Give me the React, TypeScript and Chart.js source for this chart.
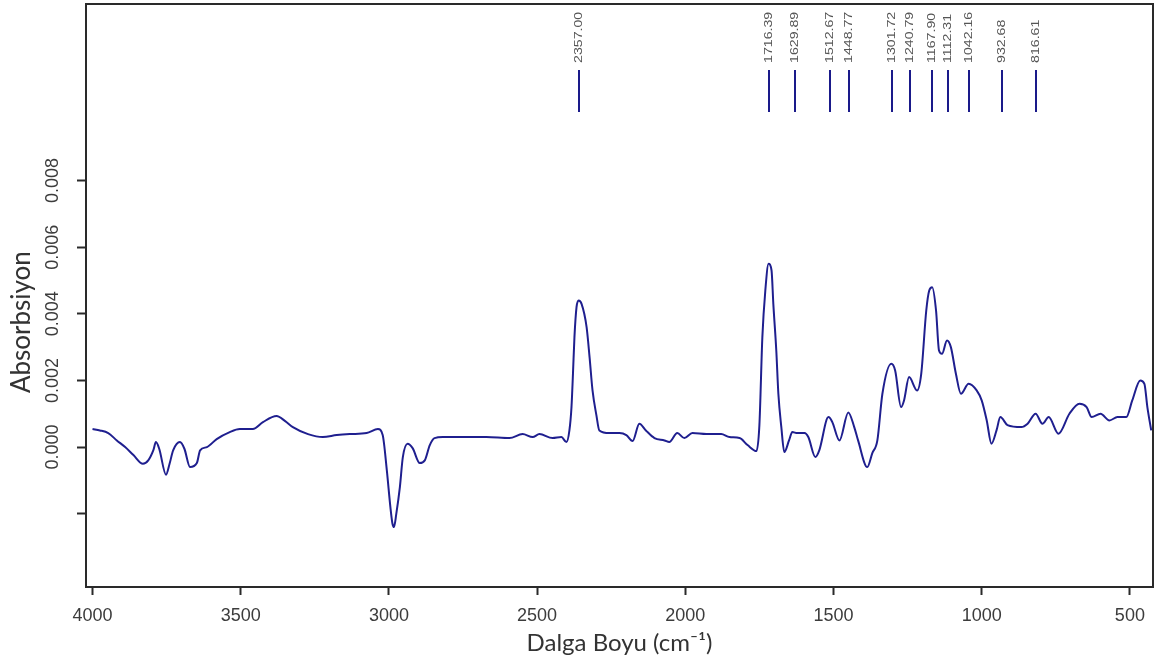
import React, { useEffect, useRef } from "react";
import { Chart, registerables } from "chart.js";

Chart.register(...registerables);

// Wavenumbers (cm-1), descending
const wavenumbers: number[] = [
  4000, 3975, 3947, 3918, 3890, 3862, 3830, 3812, 3795, 3786, 3775, 3752, 3740, 3728, 3705, 3690, 3671, 3648,
  3637, 3614, 3581, 3537, 3503, 3459, 3425, 3379, 3350, 3324, 3273, 3223, 3176, 3132, 3075, 3037, 3021, 3007,
  2995, 2988, 2983, 2975, 2963, 2953, 2937, 2920, 2896, 2879, 2862, 2846, 2818, 2761, 2671, 2593, 2549, 2515,
  2492, 2448, 2418, 2401, 2391, 2384, 2379, 2374, 2367, 2360, 2350, 2333, 2323, 2313, 2300, 2290, 2256, 2222,
  2199, 2178, 2155, 2133, 2104, 2070, 2054, 2027, 2003, 1976, 1929, 1879, 1851, 1817, 1790, 1760, 1750, 1740,
  1730, 1719, 1709, 1703, 1693, 1686, 1676, 1666, 1650, 1639, 1622, 1598, 1585, 1561, 1548, 1517, 1504, 1480,
  1450, 1430, 1417, 1386, 1369, 1352, 1335, 1305, 1292, 1272, 1262, 1245, 1218, 1204, 1187, 1177, 1167, 1154,
  1144, 1134, 1117, 1104, 1087, 1070, 1044, 1017, 1000, 983, 967, 950, 937, 913, 866, 845, 818, 795, 774, 741,
  704, 670, 646, 629, 599, 569, 542, 512, 492, 465, 451, 441, 428,
];

// Absorbance values matching wavenumbers
const absorbance: number[] = [
  0.00054, 0.0005, 0.00042, 0.0002, 0.0, -0.00024, -0.0005, -0.0004, -0.0001, 0.00015, -0.00005, -0.00083, -0.0005,
  -0.0001, 0.00015, -0.00005, -0.0006, -0.00048, -0.0001, 0.0, 0.00024, 0.00045, 0.00054, 0.00054, 0.00075, 0.00093,
  0.00078, 0.0006, 0.00039, 0.0003, 0.00036, 0.00039, 0.00042, 0.00054, 0.00036, -0.0007, -0.0018, -0.0023, -0.0024,
  -0.002, -0.0012, -0.0003, 0.0001, -0.00003, -0.00048, -0.0004, 0.00006, 0.00027, 0.0003, 0.0003, 0.0003, 0.00027,
  0.00039, 0.0003, 0.00039, 0.00027, 0.0003, 0.00015, 0.0005, 0.0012, 0.0022, 0.0033, 0.0042, 0.0044, 0.0043, 0.0036,
  0.0027, 0.0017, 0.00096, 0.0005, 0.00042, 0.00042, 0.00036, 0.00018, 0.0007, 0.0005, 0.00027, 0.0002, 0.00015,
  0.00042, 0.00027, 0.00042, 0.00039, 0.00039, 0.0003, 0.00027, 0.00006, -0.00012, 0.00066, 0.0033, 0.0047, 0.0055,
  0.0053, 0.0043, 0.0029, 0.0016, 0.0006, -0.00015, 0.0002, 0.00045, 0.00042, 0.00042, 0.0003, -0.0003, -0.0001,
  0.0009, 0.00075, 0.0002, 0.00104, 0.0006, 0.0002, -0.0006, -0.00018, 0.0002, 0.0016, 0.0025, 0.0023, 0.0012, 0.0014,
  0.0021, 0.0017, 0.0022, 0.0041, 0.0047, 0.0048, 0.0041, 0.0029, 0.0028, 0.0032, 0.003, 0.0022, 0.0016, 0.0019,
  0.0017, 0.0014, 0.0008, 0.0001, 0.0005, 0.0009, 0.00066, 0.0006, 0.0007, 0.001, 0.0007, 0.0009, 0.0004, 0.001,
  0.0013, 0.0012, 0.0009, 0.001, 0.0008, 0.0009, 0.0009, 0.0014, 0.002, 0.0019, 0.0012, 0.0005,
];

// Picked peak positions (cm-1)
const peakPositions: number[] = [2357.0, 1716.39, 1629.89, 1512.67, 1448.77, 1301.72, 1240.79, 1167.9, 1112.31, 1042.16, 932.68, 816.61];

const xTickValues: number[] = [4000, 3500, 3000, 2500, 2000, 1500, 1000, 500];
const yTickValues: number[] = [-0.002, 0.0, 0.002, 0.004, 0.006, 0.008];

const xTitle = "Dalga Boyu (cm\u207B\u00B9)";
// trailing spaces shift the rotated title downward, as in the reference
const yTitle = "Absorbsiyon" + " ".repeat(8);

const LINE_COLOR = "#1f1f8f";
const FRAME_COLOR = "#2a2a2a";
const TICK_TEXT = "#3c3c3c";

const framePlugin = {
  id: "frame",
  afterDraw(chart: any) {
    const { ctx, chartArea } = chart;
    ctx.save();
    ctx.strokeStyle = FRAME_COLOR;
    ctx.lineWidth = 2;
    ctx.strokeRect(chartArea.left, chartArea.top, chartArea.right - chartArea.left, chartArea.bottom - chartArea.top);
    ctx.restore();
  },
};

const peakPlugin = {
  id: "peaks",
  afterDatasetsDraw(chart: any) {
    const { ctx, chartArea } = chart;
    const xs = chart.scales.x;
    ctx.save();
    for (const p of peakPositions) {
      const px = Math.round(xs.getPixelForValue(p));
      ctx.strokeStyle = "#1a1a8a";
      ctx.lineWidth = 2;
      ctx.beginPath();
      ctx.moveTo(px, chartArea.top + 66);
      ctx.lineTo(px, chartArea.top + 108);
      ctx.stroke();
      ctx.save();
      ctx.translate(px, chartArea.top + 59);
      ctx.rotate(-Math.PI / 2);
      ctx.scale(1.35, 1);
      ctx.fillStyle = "#555555";
      ctx.font = "10.5px 'Liberation Sans', Arial, sans-serif";
      ctx.textAlign = "left";
      ctx.textBaseline = "middle";
      ctx.fillText(p.toFixed(2), 0, 0);
      ctx.restore();
    }
    ctx.restore();
  },
};

export default function App() {
  const canvasRef = useRef<HTMLCanvasElement | null>(null);

  useEffect(() => {
    if (!canvasRef.current) return;
    const data = wavenumbers.map((w, i) => ({ x: w, y: absorbance[i] }));
    const chart = new Chart(canvasRef.current, {
      type: "line",
      data: {
        datasets: [
          {
            data,
            borderColor: LINE_COLOR,
            borderWidth: 2,
            pointRadius: 0,
            fill: false,
            cubicInterpolationMode: "monotone",
          },
        ],
      },
      options: {
        animation: false,
        responsive: false,
        events: [],
        layout: { padding: { top: 4, right: 6, left: 0, bottom: 0 } },
        plugins: { legend: { display: false }, tooltip: { enabled: false } },
        scales: {
          x: {
            type: "linear",
            reverse: true,
            min: 422,
            max: 4022,
            afterBuildTicks: (scale: any) => {
              scale.ticks = xTickValues.map((v) => ({ value: v }));
            },
            afterFit: (scale: any) => {
              scale.height = 76;
              scale.paddingLeft = 0;
              scale.paddingRight = 0;
            },
            border: { display: false },
            grid: { drawOnChartArea: false, drawTicks: true, tickLength: 8, tickWidth: 2, tickColor: FRAME_COLOR },
            ticks: {
              color: TICK_TEXT,
              font: { family: "'Liberation Sans', Arial, sans-serif", size: 18 },
              padding: 10,
              maxRotation: 0,
              autoSkip: false,
              callback: (v: any) => String(v),
            },
            title: {
              display: true,
              text: xTitle,
              color: "#333333",
              font: { family: "Lato, 'Open Sans', sans-serif", size: 24 },
              padding: { top: 0, bottom: 5 },
            },
          },
          y: {
            type: "linear",
            min: -0.0042,
            max: 0.0133,
            afterBuildTicks: (scale: any) => {
              scale.ticks = yTickValues.map((v) => ({ value: v }));
            },
            afterFit: (scale: any) => {
              scale.width = 86;
              scale.paddingTop = 0;
              scale.paddingBottom = 0;
            },
            border: { display: false },
            grid: { drawOnChartArea: false, drawTicks: true, tickLength: 9, tickWidth: 2, tickColor: FRAME_COLOR },
            ticks: {
              color: TICK_TEXT,
              font: { family: "'Liberation Sans', Arial, sans-serif", size: 18 },
              minRotation: 90,
              maxRotation: 90,
              crossAlign: "center",
              padding: 1,
              autoSkip: false,
              callback: (v: any) => (v < 0 ? "" : Number(v).toFixed(3)),
            },
            title: {
              display: true,
              text: yTitle,
              color: "#333333",
              font: { family: "Lato, 'Open Sans', sans-serif", size: 26 },
              padding: { top: 6, bottom: 0 },
            },
          },
        },
      },
      plugins: [framePlugin, peakPlugin],
    } as any);
    return () => chart.destroy();
  }, []);

  return (
    <div style={{ position: "absolute", left: 0, top: 0, width: 1159, height: 663, background: "#fff" }}>
      <canvas ref={canvasRef} width={1159} height={663} style={{ display: "block" }} />
    </div>
  );
}
